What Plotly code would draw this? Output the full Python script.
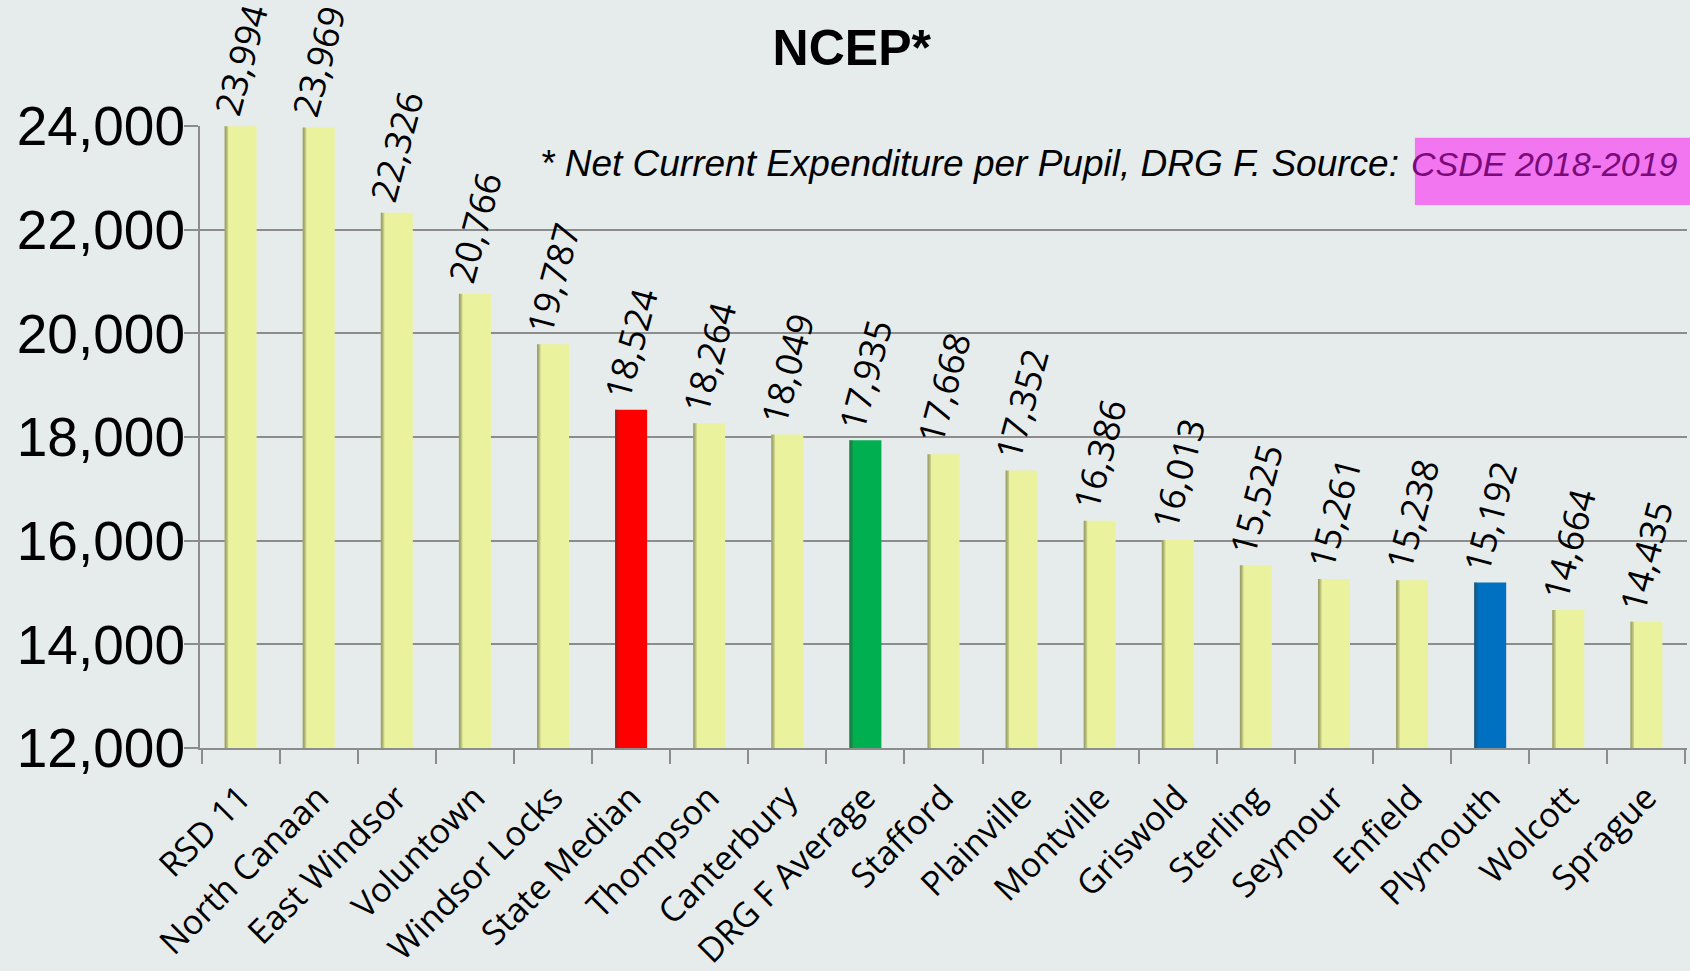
import plotly.graph_objects as go

categories = ["RSD 11", "North Canaan", "East Windsor", "Voluntown", "Windsor Locks",
              "State Median", "Thompson", "Canterbury", "DRG F Average", "Stafford",
              "Plainville", "Montville", "Griswold", "Sterling", "Seymour", "Enfield",
              "Plymouth", "Wolcott", "Sprague"]
values = [23994, 23969, 22326, 20766, 19787, 18524, 18264, 18049, 17935, 17668,
          17352, 16386, 16013, 15525, 15261, 15238, 15192, 14664, 14435]
y_ticks = [12000, 14000, 16000, 18000, 20000, 22000, 24000]
highlight = {"State Median": "#FF0000", "DRG F Average": "#00B050", "Plymouth": "#0070C0"}

YELLOW = "#EBF29E"
BG = "#E6ECEC"
colors = [highlight.get(c, YELLOW) for c in categories]

BAR_W = 0.41
fig = go.Figure()
fig.add_trace(go.Bar(
    x=categories, y=values, marker=dict(color=colors, line=dict(width=0)),
    width=BAR_W, showlegend=False, hoverinfo="x+y",
))
# soft shading on the left edge of each bar
for w, off, a in [(0.045, -BAR_W / 2, 0.22), (0.028, -BAR_W / 2, 0.18), (0.014, -BAR_W / 2, 0.12)]:
    fig.add_trace(go.Bar(
        x=categories, y=values, width=w, offset=off,
        marker=dict(color=f"rgba(60,60,40,{a})", line=dict(width=0)),
        showlegend=False, hoverinfo="skip",
    ))

for c, v in zip(categories, values):
    fig.add_annotation(x=c, y=v, text=f"{v:,}", textangle=-75, showarrow=False,
                       xanchor="center", yanchor="bottom", yshift=3,
                       font=dict(family="Open Sans", size=36, color="black"))

# pink highlighter behind the source
fig.add_shape(type="rect", xref="paper", yref="paper", x0=0.817, x1=1.003, y0=0.873, y1=0.981,
              fillcolor="#F276F0", line=dict(width=0), layer="below")
fig.add_annotation(xref="paper", yref="paper", x=0.808, y=0.939, xanchor="right", yanchor="middle",
                   text="<i>* Net Current Expenditure per Pupil, DRG F. Source:</i>", showarrow=False,
                   font=dict(family="Liberation Sans", size=37, color="black"))
fig.add_annotation(xref="paper", yref="paper", x=0.995, y=0.939, xanchor="right", yanchor="middle",
                   text="<i>CSDE 2018-2019</i>", showarrow=False,
                   font=dict(family="Liberation Sans", size=34, color="#7A0A7A"))

fig.update_layout(
    width=1690, height=971,
    paper_bgcolor=BG, plot_bgcolor=BG,
    barmode="overlay",
    margin=dict(l=200, r=3, t=126, b=223, autoexpand=False),
    title=dict(text="<b>NCEP*</b>", x=0.504, xanchor="center", y=0.951, yanchor="middle",
               font=dict(family="Liberation Sans", size=50, color="black")),
    xaxis=dict(type="category", tickson="boundaries", ticks="outside", ticklen=14,
               tickcolor="#8C8C8C", tickwidth=2, showline=True, linecolor="#8C8C8C", linewidth=2,
               showgrid=False, tickangle=-45, ticklabelstandoff=14, automargin=False,
               tickfont=dict(family="Open Sans", size=34, color="black")),
    yaxis=dict(range=[12000, 24000], tickvals=y_ticks, ticktext=[f"{t:,}" for t in y_ticks],
               ticks="outside", ticklen=14, tickcolor="#8C8C8C", tickwidth=2, automargin=False,
               showline=True, linecolor="#8C8C8C", linewidth=2, ticklabelstandoff=-12,
               gridcolor="#8C8C8C", gridwidth=2, zeroline=False,
               tickfont=dict(family="Liberation Sans", size=55, color="black")),
)

fig.write_html("out.html", post_script="document.body.style.margin='0';",
               config={"displayModeBar": False})
